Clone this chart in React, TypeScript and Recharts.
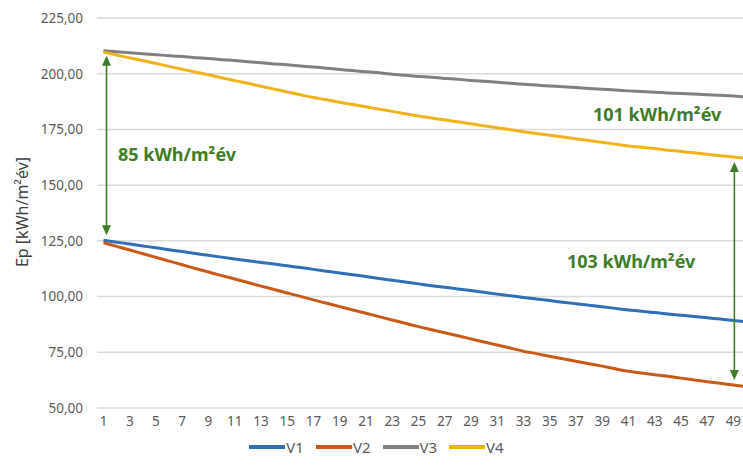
import React from "react";
import { LineChart, Line, XAxis, YAxis, CartesianGrid, Legend, ReferenceLine } from "recharts";

const years = [
  1, 2, 3, 4, 5, 6, 7, 8, 9, 10, 11, 12, 13, 14, 15, 16, 17, 18, 19, 20, 21, 22, 23, 24, 25,
  26, 27, 28, 29, 30, 31, 32, 33, 34, 35, 36, 37, 38, 39, 40, 41, 42, 43, 44, 45, 46, 47, 48, 49, 50,
];

const v1 = [
  125.3, 124.4, 123.6, 122.7, 121.9, 121.0, 120.2, 119.3, 118.5, 117.7, 116.9, 116.1, 115.3, 114.6, 113.8,
  113.0, 112.2, 111.4, 110.6, 109.8, 109.0, 108.1, 107.3, 106.5, 105.7, 104.9, 104.2, 103.4, 102.7, 101.9,
  101.1, 100.4, 99.6, 98.9, 98.2, 97.5, 96.8, 96.1, 95.4, 94.7, 94.0, 93.4, 92.8, 92.2, 91.6, 91.1, 90.5,
  89.9, 89.3, 88.7,
];

const v2 = [
  124.2, 122.5, 120.9, 119.2, 117.6, 115.9, 114.3, 112.6, 111.0, 109.4, 107.9, 106.3, 104.7, 103.2, 101.6,
  100.1, 98.5, 97.0, 95.5, 94.0, 92.5, 91.0, 89.5, 88.0, 86.5, 85.1, 83.8, 82.4, 81.0, 79.6, 78.3, 76.9,
  75.5, 74.4, 73.2, 72.1, 71.0, 69.9, 68.8, 67.6, 66.5, 65.7, 64.9, 64.2, 63.4, 62.6, 61.8, 61.1, 60.3, 59.6,
];

const v3 = [
  210.3, 209.9, 209.4, 209.0, 208.5, 208.1, 207.7, 207.2, 206.8, 206.3, 205.9, 205.4, 204.9, 204.4, 204.0,
  203.5, 203.0, 202.5, 201.9, 201.4, 200.9, 200.4, 199.8, 199.3, 198.8, 198.4, 197.9, 197.5, 197.0, 196.6,
  196.2, 195.7, 195.3, 194.9, 194.5, 194.2, 193.8, 193.4, 193.0, 192.7, 192.3, 192.0, 191.7, 191.4, 191.1,
  190.9, 190.6, 190.3, 190.0, 189.6,
];

const v4 = [
  209.7, 208.4, 207.1, 205.9, 204.6, 203.3, 202.0, 200.8, 199.5, 198.2, 196.9, 195.7, 194.4, 193.1, 191.8,
  190.6, 189.3, 188.3, 187.2, 186.2, 185.2, 184.1, 183.1, 182.0, 181.0, 180.1, 179.3, 178.4, 177.5, 176.6,
  175.8, 174.9, 174.0, 173.2, 172.4, 171.6, 170.8, 170.0, 169.2, 168.4, 167.6, 167.0, 166.4, 165.7, 165.1,
  164.5, 163.9, 163.2, 162.6, 162.0,
];

const yTicks = [50, 75, 100, 125, 150, 175, 200, 225];

const seriesInfo = [
  { key: "V1", color: "#2e6fb7" },
  { key: "V2", color: "#c85a17" },
  { key: "V3", color: "#808080" },
  { key: "V4", color: "#efb21a" },
];

const data = years.map((n, i) => ({ n, V1: v1[i], V2: v2[i], V3: v3[i], V4: v4[i] }));

const GREEN = "#3e7d25";
const FONT = "'Noto Sans', 'Open Sans', sans-serif";

// double-headed arrow, pulled in a little from each end
const Arrow = (props: any) => {
  const { x1, y1, x2, y2 } = props;
  const dx = props.dx || 0;
  const x = x1 + dx;
  const top = Math.min(y1, y2) + 5;
  const bot = Math.max(y1, y2) - 5;
  const h = 10;
  const w = 4.5;
  return (
    <g>
      <line x1={x} y1={top + 4} x2={x} y2={bot - 4} stroke={GREEN} strokeWidth={1.6} />
      <polygon points={`${x},${top} ${x - w},${top + h} ${x + w},${top + h}`} fill={GREEN} />
      <polygon points={`${x},${bot} ${x - w},${bot - h} ${x + w},${bot - h}`} fill={GREEN} />
    </g>
  );
};

const LegendBox = () => (
  <div style={{ display: "flex", justifyContent: "center", fontFamily: FONT, fontSize: 15, color: "#595959", lineHeight: "18px" }}>
    {seriesInfo.map((s) => (
      <div key={s.key} style={{ display: "flex", alignItems: "center", margin: "0 6px" }}>
        <span style={{ display: "inline-block", width: 36, height: 3.5, background: s.color, marginRight: 1 }} />
        <span>{s.key}</span>
      </div>
    ))}
  </div>
);

const fmt = (v: number) => v.toFixed(2).replace(".", ",");

export default function App() {
  return (
    <div style={{ position: "absolute", left: 0, top: 0, width: 743, height: 470, overflow: "hidden", background: "#fff" }}>
      <LineChart width={762} height={470} data={data} margin={{ top: 18, right: 9, bottom: 14, left: 0 }}>
        <CartesianGrid vertical={false} stroke="#d9d9d9" strokeWidth={1.5} />
        <XAxis
          dataKey="n"
          interval={1}
          axisLine={false}
          tickLine={false}
          padding={{ left: 6.5, right: 6.5 }}
          tickMargin={2}
          tick={{ fill: "#595959", fontSize: 13.5, fontFamily: FONT }}
        />
        <YAxis
          width={97}
          domain={[50, 225]}
          ticks={yTicks}
          tickFormatter={fmt}
          axisLine={false}
          tickLine={false}
          tickMargin={8}
          tick={{ fill: "#595959", fontSize: 13.5, fontFamily: FONT }}
          label={{
            content: () => (
              <text
                x={22}
                y={212}
                transform="rotate(-90 22 212)"
                textAnchor="middle"
                dominantBaseline="central"
                fill="#404040"
                fontSize={16}
                fontFamily={FONT}
              >
                Ep [kWh/m²év]
              </text>
            ),
          }}
        />
        <Legend verticalAlign="bottom" content={() => <LegendBox />} />
        {seriesInfo.map((s) => (
          <Line
            key={s.key}
            type="monotone"
            dataKey={s.key}
            stroke={s.color}
            strokeWidth={3}
            dot={false}
            isAnimationActive={false}
          />
        ))}
        <ReferenceLine
          segment={[{ x: 1, y: v3[0] }, { x: 1, y: v1[0] }]}
          shape={(p: any) => <Arrow {...p} dx={3} />}
        />
        <ReferenceLine
          segment={[{ x: 49, y: v4[48] }, { x: 49, y: v2[48] }]}
          shape={(p: any) => <Arrow {...p} dx={1} />}
        />
        <g fontFamily={FONT} fontWeight={700} fontSize={18} fill={GREEN}>
          <text x={118} y={161}>85 kWh/m²év</text>
          <text x={593} y={121}>101 kWh/m²év</text>
          <text x={567} y={268}>103 kWh/m²év</text>
        </g>
      </LineChart>
    </div>
  );
}
